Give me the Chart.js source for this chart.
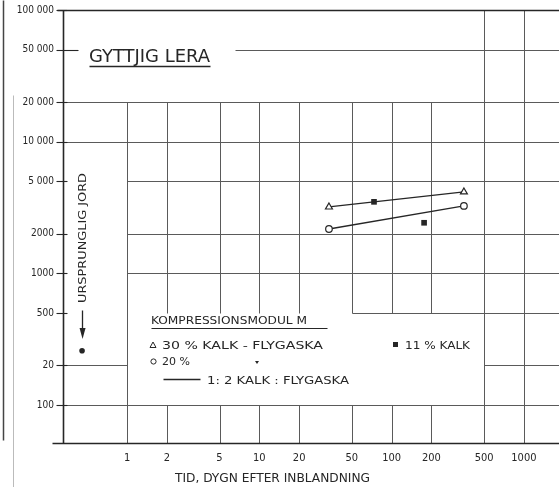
<!DOCTYPE html>
<html>
<head>
<meta charset="utf-8">
<script src="https://cdn.jsdelivr.net/npm/chart.js@4"></script>
<style>
html, body { margin: 0; padding: 0; background: #fff; }
</style>
</head>
<body>
<canvas id="myChart" width="559" height="487"></canvas>
<script>
// tick labels (as printed in the original, "20" stands at the 200 line)
const xTicks = [1, 2, 5, 10, 20, 50, 100, 200, 500, 1000];
const xTickLabels = ['1', '2', '5', '10', '20', '50', '100', '200', '500', '1000'];
const yTicks = [100000, 50000, 20000, 10000, 5000, 2000, 1000, 500, 200, 100];
const yTickLabels = ['100 000', '50 000', '20 000', '10 000', '5 000', '2000', '1000', '500', '20', '100'];

// kompressionsmodul M, days after mixing
const days = [33.6, 352];
const kalkFlyg30 = [3190, 4150];
const kalkFlyg20 = [2170, 3250];
const kalk11Days = [73.6, 176];
const kalk11 = [3490, 2420];
const ursDays = [0.457];
const ursJord = [258];

const FONT = "'DejaVu Sans Condensed', 'DejaVu Sans', sans-serif";
const INK = '#262626';
const GRID = '#5a5a5a';

Chart.defaults.font.family = FONT;
Chart.defaults.color = INK;

function toPoints(xs, ys) {
    return xs.map((v, i) => ({ x: v, y: ys[i] }));
}

// draw text squeezed/stretched to a given width
function fitText(ctx, txt, x, y, w, size) {
    ctx.save();
    ctx.font = size + 'px ' + FONT;
    const m = ctx.measureText(txt).width;
    ctx.translate(x, y);
    ctx.scale(w / m, 1);
    ctx.textAlign = 'left';
    ctx.textBaseline = 'alphabetic';
    ctx.fillStyle = INK;
    ctx.fillText(txt, 0, 0);
    ctx.restore();
}

function seg(ctx, x0, y0, x1, y1) {
    ctx.beginPath();
    ctx.moveTo(Math.round(x0) + 0.5, Math.round(y0) + 0.5);
    ctx.lineTo(Math.round(x1) + 0.5, Math.round(y1) + 0.5);
    ctx.stroke();
}

const paper = {
    id: 'paper',
    beforeDraw(chart) {
        const ctx = chart.ctx;
        ctx.save();
        ctx.fillStyle = '#fff';
        ctx.fillRect(0, 0, chart.width, chart.height);
        ctx.restore();
    },
    beforeDatasetsDraw(chart) {
        const { ctx, chartArea: a, scales: { x, y } } = chart;
        const X = v => x.getPixelForValue(v);
        const Y = v => y.getPixelForValue(v);
        const x0 = x.min, x1 = x.max, y0 = y.min, y1 = y.max;

        ctx.save();
        // grid, broken where the title and the legend sit
        ctx.strokeStyle = GRID;
        ctx.lineWidth = 1;
        const vLines = [
            [1, y0, 20000],
            [2, 500, 20000], [2, y0, 100],
            [5, 500, 20000], [5, y0, 100],
            [10, 500, 20000], [10, y0, 100],
            [20, 500, 20000], [20, y0, 100],
            [50, 500, 20000], [50, y0, 100],
            [100, 500, 20000], [100, y0, 100],
            [200, 500, 20000], [200, y0, 100],
            [500, y0, y1], [1000, y0, y1]
        ];
        vLines.forEach(([v, a0, a1]) => seg(ctx, X(v), Y(a0), X(v), Y(a1)));
        const hLines = [
            [50000, 6.5, x1],
            [20000, x0, x1], [10000, x0, x1],
            [5000, 1, x1], [2000, 1, x1], [1000, 1, x1],
            [500, 50, x1],
            [200, x0, 1], [200, 500, x1],
            [100, x0, x1]
        ];
        hLines.forEach(([v, a0, a1]) => seg(ctx, X(a0), Y(v), X(a1), Y(v)));

        // axes
        ctx.strokeStyle = INK;
        ctx.lineWidth = 1.6;
        seg(ctx, a.left - 6, a.top, a.right, a.top);
        seg(ctx, a.left, a.top, a.left, a.bottom);
        seg(ctx, a.left - 11, a.bottom, a.right, a.bottom);

        // y tick marks
        ctx.lineWidth = 1.1;
        yTicks.forEach(v => {
            const len = v === 50000 ? 15 : 4;
            seg(ctx, a.left - 7, Y(v), a.left + len, Y(v));
        });

        // page edge of the scan
        ctx.strokeStyle = '#444';
        ctx.lineWidth = 1.5;
        seg(ctx, 3, 0, 3, 440);
        ctx.strokeStyle = '#bbb';
        ctx.lineWidth = 1;
        seg(ctx, 13, 95, 13, 487);

        // title
        fitText(ctx, 'GYTTJIG LERA', 89, 62, 121, 17);
        ctx.strokeStyle = INK;
        ctx.lineWidth = 1.5;
        seg(ctx, 89, 66, 210, 66);

        // original soil marker
        ctx.save();
        ctx.translate(86, 303);
        ctx.rotate(-Math.PI / 2);
        fitText(ctx, 'URSPRUNGLIG JORD', 0, 0, 130, 11);
        ctx.restore();
        const ax = X(ursDays[0]);
        ctx.lineWidth = 1.3;
        seg(ctx, ax, 310, ax, 331);
        ctx.fillStyle = INK;
        ctx.beginPath();
        ctx.moveTo(ax - 2.5, 328);
        ctx.lineTo(ax + 3.5, 328);
        ctx.lineTo(ax + 0.5, 339);
        ctx.closePath();
        ctx.fill();

        // legend block
        fitText(ctx, 'KOMPRESSIONSMODUL M', 151, 324, 156, 11);
        ctx.lineWidth = 1.2;
        seg(ctx, 151, 328, 327, 328);

        ctx.lineWidth = 1;
        ctx.beginPath();
        ctx.moveTo(153, 342);
        ctx.lineTo(156, 347.5);
        ctx.lineTo(150, 347.5);
        ctx.closePath();
        ctx.stroke();
        fitText(ctx, '30 % KALK - FLYGASKA', 162, 349, 161, 11);

        ctx.beginPath();
        ctx.arc(153.5, 361.5, 2.6, 0, Math.PI * 2);
        ctx.stroke();
        fitText(ctx, '20 %', 162, 365, 28, 11);
        fitText(ctx, '▾', 255, 364, 4, 6);

        ctx.lineWidth = 1.3;
        seg(ctx, 163, 379, 200, 379);
        fitText(ctx, '1: 2 KALK : FLYGASKA', 207, 384, 142, 11);

        ctx.fillStyle = INK;
        ctx.fillRect(393, 342, 5, 5);
        fitText(ctx, '11 % KALK', 405, 349, 65, 11);

        // x axis title
        fitText(ctx, 'TID, DYGN EFTER INBLANDNING', 175, 482, 195, 12);
        ctx.restore();
    }
};

const ctx = document.getElementById('myChart');

const myChart = new Chart(ctx, {
    type: 'scatter',
    data: {
        datasets: [{
            label: '30 % kalk-flygaska',
            data: toPoints(days, kalkFlyg30),
            showLine: true,
            borderColor: INK,
            borderWidth: 1.3,
            pointStyle: 'triangle',
            pointRadius: 4,
            pointBackgroundColor: '#fff',
            pointBorderColor: INK,
            pointBorderWidth: 1.2
        }, {
            label: '20 % kalk-flygaska',
            data: toPoints(days, kalkFlyg20),
            showLine: true,
            borderColor: INK,
            borderWidth: 1.3,
            pointStyle: 'circle',
            pointRadius: 3.3,
            pointBackgroundColor: '#fff',
            pointBorderColor: INK,
            pointBorderWidth: 1.2
        }, {
            label: '11 % kalk',
            data: toPoints(kalk11Days, kalk11),
            showLine: false,
            pointStyle: 'rect',
            pointRadius: 4,
            pointBackgroundColor: INK,
            pointBorderColor: INK,
            pointBorderWidth: 0
        }, {
            label: 'Ursprunglig jord',
            data: toPoints(ursDays, ursJord),
            showLine: false,
            pointStyle: 'circle',
            pointRadius: 2.8,
            pointBackgroundColor: INK,
            pointBorderColor: INK,
            pointBorderWidth: 0
        }]
    },
    options: {
        responsive: false,
        animation: false,
        layout: { autoPadding: false, padding: { top: 10, left: 0, right: 0, bottom: 0 } },
        plugins: {
            legend: { display: false },
            tooltip: { enabled: false }
        },
        scales: {
            x: {
                type: 'logarithmic',
                bounds: 'data',
                min: 0.328,
                max: 1842,
                grid: { display: false, drawTicks: false },
                border: { display: false },
                afterBuildTicks: s => { s.ticks = xTicks.map(v => ({ value: v })); },
                afterFit: s => { s.height = 44; s.paddingLeft = 0; s.paddingRight = 0; },
                ticks: {
                    autoSkip: false,
                    maxRotation: 0,
                    padding: 9,
                    font: { size: 11 },
                    color: INK,
                    callback: v => xTickLabels[xTicks.indexOf(v)]
                }
            },
            y: {
                type: 'logarithmic',
                bounds: 'data',
                min: 51.4,
                max: 100000,
                grid: { display: false, drawTicks: false },
                border: { display: false },
                afterBuildTicks: s => { s.ticks = yTicks.map(v => ({ value: v })); },
                afterFit: s => { s.width = 63; s.paddingTop = 0; s.paddingBottom = 0; },
                ticks: {
                    autoSkip: false,
                    padding: 9,
                    font: { size: 10 },
                    color: INK,
                    callback: v => yTickLabels[yTicks.indexOf(v)]
                }
            }
        }
    },
    plugins: [paper]
});
</script>
</body>
</html>
